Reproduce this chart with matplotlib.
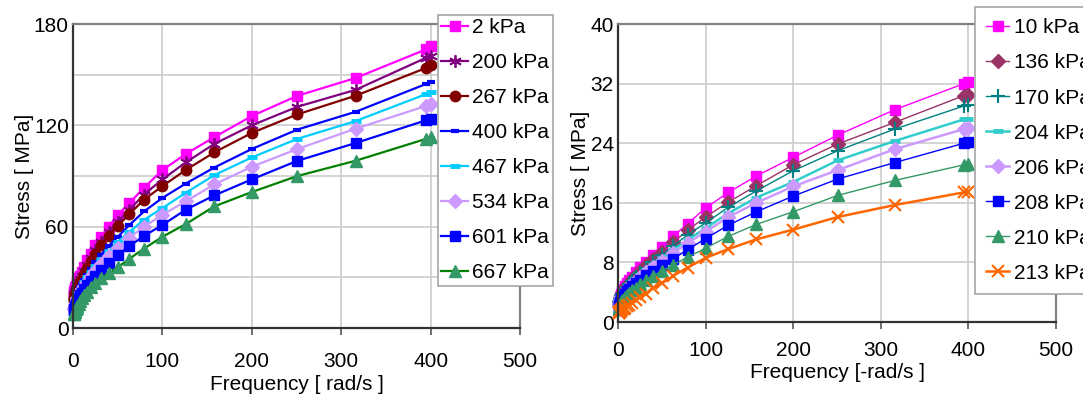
import matplotlib
matplotlib.use('Agg')
import matplotlib.pyplot as plt
from matplotlib.ticker import MultipleLocator

plt.rcParams['font.family'] = ['Liberation Sans', 'DejaVu Sans']

# frequencies [rad/s], same sweep for both panels
freq = [1, 1.26, 1.58, 2, 2.51, 3.16, 3.98, 5.01, 6.31, 7.94, 10, 12.6, 15.8, 20,
        25.1, 31.6, 39.8, 50.1, 63.1, 79.4, 100, 126, 158, 200, 251, 316, 395, 400]

# left panel
left_labels = ['2 kPa', '200 kPa', '267 kPa', '400 kPa', '467 kPa', '534 kPa', '601 kPa', '667 kPa']
s2 = [20, 21, 22, 23, 24, 25, 26.5, 28, 29.5, 31, 33, 36, 40, 44, 49, 54, 60, 67, 74, 83,
      93.5, 103, 113, 125.5, 137.5, 148, 165, 167]
s200 = [18, 19, 20, 21, 22, 23, 24.5, 26, 27.5, 29, 31, 34, 37.5, 41.5, 46, 51, 57, 63, 70, 79,
        88, 98, 109, 120, 131, 141, 160, 161]
s267 = [16, 17, 18, 19, 20, 21, 22.5, 24, 25.5, 27, 29, 32, 35.5, 39.5, 44, 49, 54.5, 60.5, 67.5, 76,
        84, 93.5, 104, 115.5, 126.5, 137.5, 154, 156]
s400 = [13, 13.5, 14, 15, 16, 17, 18.5, 20, 22, 24, 26, 28.5, 31.5, 35, 39, 43.5, 48.5, 54, 61, 69,
        77, 85.5, 95, 106, 117.5, 128, 144.5, 145.5]
s467 = [12, 12.5, 13, 14, 15, 16, 17.5, 19, 20.5, 22.5, 24.5, 27, 30, 33, 36.5, 41, 45.5, 51, 57, 64,
        71, 80, 90.5, 101, 112, 122.5, 138.5, 139.5]
s534 = [11, 11.5, 12, 13, 14, 15, 16.5, 18, 19.5, 21, 23, 25, 27.5, 30.5, 34, 38, 42.5, 47.5, 53.5, 60,
        67, 75, 85, 95.5, 106, 118, 131.5, 132.5]
s601 = [10, 10.5, 11, 12, 13, 14, 15, 16.5, 18, 19.5, 21, 23, 25.5, 28, 31, 34.5, 38.5, 43, 48.5, 54.5,
        61, 70, 78.5, 88, 99, 109.5, 123, 124]
s667 = [8, 8.5, 9, 9.5, 10, 11, 12, 13, 14.5, 16, 17.5, 19.5, 21.5, 24, 26.5, 29.5, 32.5, 36, 41, 47,
        54, 61.5, 72, 80.5, 90, 99, 112, 113]

# right panel
right_labels = ['10 kPa', '136 kPa', '170 kPa', '204 kPa', '206 kPa', '208 kPa', '210 kPa', '213 kPa']
r10 = [2.6, 2.8, 3.0, 3.2, 3.4, 3.6, 3.8, 4.1, 4.4, 4.8, 5.2, 5.6, 6.1, 6.7, 7.4, 8.1, 9.0, 10.1, 11.5, 13.2,
       15.3, 17.4, 19.6, 22.1, 25.1, 28.5, 32.0, 32.2]
r136 = [2.4, 2.6, 2.8, 3.0, 3.2, 3.4, 3.6, 3.9, 4.2, 4.5, 4.9, 5.3, 5.8, 6.3, 6.9, 7.6, 8.4, 9.4, 10.7, 12.3,
        14.1, 16.1, 18.3, 21.1, 23.9, 26.8, 30.4, 30.5]
r170 = [2.3, 2.5, 2.7, 2.9, 3.1, 3.3, 3.5, 3.7, 4.0, 4.3, 4.7, 5.1, 5.5, 6.0, 6.6, 7.3, 8.1, 9.0, 10.2, 11.7,
        13.3, 15.4, 17.6, 20.3, 23.0, 25.9, 29.0, 29.1]
r204 = [2.2, 2.4, 2.6, 2.8, 3.0, 3.2, 3.4, 3.6, 3.9, 4.2, 4.5, 4.9, 5.3, 5.8, 6.3, 7.0, 7.7, 8.6, 9.7, 11.0,
        12.6, 14.6, 16.7, 18.8, 21.7, 24.3, 27.2, 27.3]
r206 = [2.1, 2.3, 2.5, 2.7, 2.9, 3.1, 3.3, 3.5, 3.7, 4.0, 4.3, 4.7, 5.1, 5.5, 6.1, 6.7, 7.4, 8.2, 9.2, 10.6,
        12.1, 14.1, 16.0, 18.2, 20.4, 23.2, 25.9, 26.0]
r208 = [2.0, 2.2, 2.3, 2.5, 2.7, 2.9, 3.1, 3.3, 3.5, 3.8, 4.1, 4.4, 4.8, 5.2, 5.7, 6.3, 6.9, 7.6, 8.5, 9.7,
        11.2, 13.0, 14.8, 16.9, 19.2, 21.4, 24.0, 24.1]
r210 = [1.7, 1.8, 2.0, 2.1, 2.3, 2.5, 2.7, 2.9, 3.1, 3.3, 3.6, 3.9, 4.3, 4.6, 5.1, 5.6, 6.2, 6.8, 7.7, 8.7,
        9.9, 11.5, 13.1, 14.8, 17.0, 19.0, 21.1, 21.2]
r213 = [1.2, 1.25, 1.3, 1.35, 1.4, 1.5, 1.6, 1.7, 1.8, 1.9, 2.1, 2.3, 2.6, 2.9, 3.3, 3.8, 4.5, 5.2, 6.2, 7.3,
        8.6, 9.8, 11.1, 12.4, 14.1, 15.7, 17.4, 17.5]

left_data = [s2, s200, s267, s400, s467, s534, s601, s667]
right_data = [r10, r136, r170, r204, r206, r208, r210, r213]

asterisk = (6, 2, 0)
# (line colour, marker colour, marker, marker size, marker edge width)
left_style = [
    ('#FF00FF', '#FF00FF', 's', 7.5, 1),
    ('#800080', '#800080', asterisk, 9, 1.3),
    ('#800000', '#800000', 'o', 7.5, 1),
    ('#0000FF', '#0000FF', '_', 6, 3),
    ('#00CCFF', '#00CCFF', '_', 7, 3.5),
    ('#CC99FF', '#CC99FF', 'D', 7, 1),
    ('#0000FF', '#0000FF', 's', 7.5, 1),
    ('#008000', '#339966', '^', 8, 1),
]
right_style = [
    ('#FF00FF', '#FF00FF', 's', 7.5, 1),
    ('#993366', '#993366', 'D', 7, 1),
    ('#008080', '#008080', '+', 10, 1.5),
    ('#33CCCC', '#33CCCC', '_', 7, 3.5),
    ('#CC99FF', '#CC99FF', 'D', 7, 1),
    ('#0000FF', '#0000FF', 's', 7.5, 1),
    ('#339966', '#339966', '^', 8, 1),
    ('#FF6600', '#FF6600', 'x', 9, 1.5),
]
right_lw = [1, 1, 1, 1.8, 1.8, 1, 1, 1.8]

FS = 15

fig = plt.figure(figsize=(10.83, 3.95), dpi=100)
axL = fig.add_axes([73 / 1083, 1 - 328 / 395, 447 / 1083, 304 / 395])
axR = fig.add_axes([618 / 1083, 1 - 322 / 395, 438 / 1083, 298 / 395])


def style_axes(ax, ymax, ymaj, ymin):
    ax.set_xlim(0, 500)
    ax.set_ylim(0, ymax)
    ax.xaxis.set_major_locator(MultipleLocator(100))
    ax.yaxis.set_major_locator(MultipleLocator(ymaj))
    ax.yaxis.set_minor_locator(MultipleLocator(ymin))
    ax.grid(which='both', color='#CCCCCC', linewidth=1.2)
    ax.set_axisbelow(True)
    ax.tick_params(axis='y', which='both', length=0, pad=3, labelsize=FS)
    ax.tick_params(axis='x', length=5, width=1.2, color='#555555', pad=12, labelsize=FS)
    for s in ['left', 'bottom']:
        ax.spines[s].set_color('#333333')
        ax.spines[s].set_linewidth(1.6)
    for s in ['top', 'right']:
        ax.spines[s].set_color('#808080')
        ax.spines[s].set_linewidth(1.6)
    ax.set_ylabel('Stress [ MPa]', fontsize=FS, labelpad=0)


style_axes(axL, 180, 60, 30)
style_axes(axR, 40, 8, 8)
axR.tick_params(axis='x', pad=9)

for vals, lab, (lc, mc, mk, ms, mew) in zip(left_data, left_labels, left_style):
    axL.plot(freq, vals, color=lc, lw=1.6, marker=mk, ms=ms, mfc=mc, mec=mc, mew=mew,
             label=lab, clip_on=False)
for vals, lab, (lc, mc, mk, ms, mew), lw in zip(right_data, right_labels, right_style, right_lw):
    axR.plot(freq, vals, color=lc, lw=lw, marker=mk, ms=ms, mfc=mc, mec=mc, mew=mew,
             label=lab, clip_on=False)

axL.set_xlabel('Frequency [ rad/s ]', fontsize=FS, labelpad=3)
axR.set_xlabel('Frequency [-rad/s ]', fontsize=FS, labelpad=2)

# the right legend runs off the figure edge, as in the source picture
for ax, x0, y0, bpad, hlen in [(axL, 438, 15, 0.15, 1.3), (axR, 975, 7, 0.55, 1.1)]:
    leg = ax.legend(loc='upper left', bbox_to_anchor=(x0 / 1083, 1 - y0 / 395),
                    bbox_transform=fig.transFigure, fontsize=FS, frameon=True,
                    fancybox=False, framealpha=1, edgecolor='#A6A6A6',
                    handlelength=hlen, handletextpad=0.2, labelspacing=0.77,
                    borderpad=bpad, borderaxespad=0)
    leg.get_frame().set_linewidth(1.2)

fig.savefig('out.png', dpi=100)
